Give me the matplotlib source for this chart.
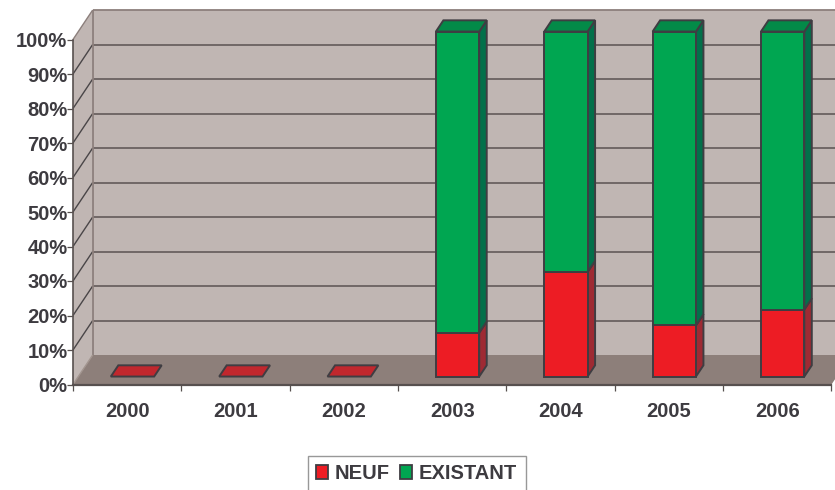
import matplotlib
matplotlib.use("Agg")
import matplotlib.pyplot as plt
from matplotlib.patches import Patch

years = ["2000", "2001", "2002", "2003", "2004", "2005", "2006"]
neuf = [0, 0, 0, 12.7, 30.3, 14.8, 19.4]
existant = [0, 0, 0, 87.3, 69.7, 85.2, 80.6]
y_ticks = [0, 10, 20, 30, 40, 50, 60, 70, 80, 90, 100]

W, H = 835, 490
plt.rcParams['font.family'] = ['Liberation Sans', 'DejaVu Sans']
fig = plt.figure(figsize=(W / 100, H / 100), dpi=100, facecolor='white')
L, R, T, B = 73, 831.5, 39.5, 384.5
ax = fig.add_axes([L / W, 1 - B / H, (R - L) / W, (B - T) / H])
ax.set_xlim(0, 7)
ax.set_ylim(0, 100)
ax.patch.set_visible(False)
for s in ax.spines.values():
    s.set_visible(False)

DX = 19.7 / ((R - L) / 7)     # whole chart depth in category units
DY = 29.5 / ((B - T) / 100)   # whole chart depth in percent units


def P(x, y, d):
    return x + d * DX, y + d * DY


def face(pts, fc, ec='none', lw=0, z=1):
    xs, ys = zip(*[P(*p) for p in pts])
    ax.fill(xs, ys, facecolor=fc, edgecolor=ec, linewidth=lw, zorder=z,
            clip_on=False, joinstyle='miter')


def seg(a, b, c, lw, z=2):
    xa, ya = P(*a)
    xb, yb = P(*b)
    ax.plot([xa, xb], [ya, yb], color=c, lw=lw, zorder=z, clip_on=False,
            solid_capstyle='butt')


WALL, FLOOR, GRID, EDGE = '#c0b6b3', '#8d7f7a', '#6a6161', '#3f3d42'
TXT = '#3d3b40'
# back wall, side wall, floor
face([(0, 0, 1), (7.3, 0, 1), (7.3, 100, 1), (0, 100, 1)], WALL)
face([(0, 0, 0), (0, 0, 1), (0, 100, 1), (0, 100, 0)], WALL)
face([(0, 0, 0), (7, 0, 0), (7, 0, 1), (0, 0, 1)], FLOOR)
for v in y_ticks[1:]:
    c = '#8c7f7c' if v == 100 else GRID
    seg((0, v, 1), (7.3, v, 1), c, 1.3)
    seg((0, v, 0), (0, v, 1), '#8c7f7c' if v == 100 else '#4a4648', 1.0)
seg((0, 0, 1), (0, 100, 1), '#8c7f7c', 1.3)
seg((0, 0, 0), (0, 0, 1), '#a2958f', 1.0)

# bars
BW = 0.4
D0, D1 = 0.27, 0.65
RED, RED_S, GREEN, GREEN_S, GREEN_T, RED_T = ('#ed1c24', '#9e2a33', '#00a651',
                                              '#02704a', '#038a48', '#c1272d')
for i in range(len(years)):
    x0 = i + 0.5 - BW / 2
    x1 = x0 + BW
    n, e = neuf[i], existant[i]
    kw = dict(ec=EDGE, lw=1.4, z=5)
    if n + e == 0:
        face([(x0, 0, D0), (x1, 0, D0), (x1, 0, D1), (x0, 0, D1)], RED_T, **kw)
        continue
    xa, ya = P(x0, 0, D0)
    ax.bar(xa, n, BW, bottom=ya, align='edge', color=RED, edgecolor=EDGE,
           linewidth=1.4, zorder=6, clip_on=False)
    ax.bar(xa, e, BW, bottom=ya + n, align='edge', color=GREEN, edgecolor=EDGE,
           linewidth=1.4, zorder=6, clip_on=False)
    face([(x1, 0, D0), (x1, 0, D1), (x1, n, D1), (x1, n, D0)], RED_S, **kw)
    face([(x1, n, D0), (x1, n, D1), (x1, n + e, D1), (x1, n + e, D0)], GREEN_S, **kw)
    face([(x0, n + e, D0), (x1, n + e, D0), (x1, n + e, D1), (x0, n + e, D1)], GREEN_T, **kw)

# axes
ax.spines['left'].set_visible(True)
ax.spines['bottom'].set_visible(True)
ax.spines['left'].set_color('#57504f')
ax.spines['bottom'].set_color('#57504f')
ax.spines['left'].set_linewidth(1.2)
ax.spines['bottom'].set_linewidth(1.6)
ax.set_yticks(y_ticks)
ax.set_yticklabels([f"{v}%" for v in y_ticks], fontsize=14.5, fontweight='bold', color=TXT)
ax.set_xticks(range(8))
ax.set_xticklabels([])
ax.set_xticks([i + 0.5 for i in range(7)], minor=True)
ax.set_xticklabels(years, minor=True, fontsize=14.5, fontweight='bold', color=TXT)
ax.tick_params(axis='x', which='major', length=4.5, width=0.9, color='#57504f')
ax.tick_params(axis='x', which='minor', length=0, pad=12.5)
ax.tick_params(axis='y', length=4, width=0.9, color='#57504f', pad=0)
for t in ax.get_xticklabels(minor=True):
    t.set_x(t.get_position()[0])

# legend
handles = [Patch(facecolor=RED, edgecolor=EDGE, linewidth=1.3, label='NEUF'),
           Patch(facecolor=GREEN, edgecolor=EDGE, linewidth=1.3, label='EXISTANT')]
leg = fig.legend(handles=handles, loc='upper left',
                 bbox_to_anchor=(307.5 / W, 1 - 456 / H),
                 bbox_transform=fig.transFigure, ncol=2,
                 prop=dict(size=14.5, weight='bold'), frameon=True, fancybox=False,
                 edgecolor='#7f7f7f', facecolor='white', borderaxespad=0,
                 handlelength=0.58, handleheight=0.7, handletextpad=0.36,
                 columnspacing=0.5, borderpad=0.42, labelcolor=TXT)
leg.get_frame().set_linewidth(1.0)

fig.savefig('out.png', dpi=100)
